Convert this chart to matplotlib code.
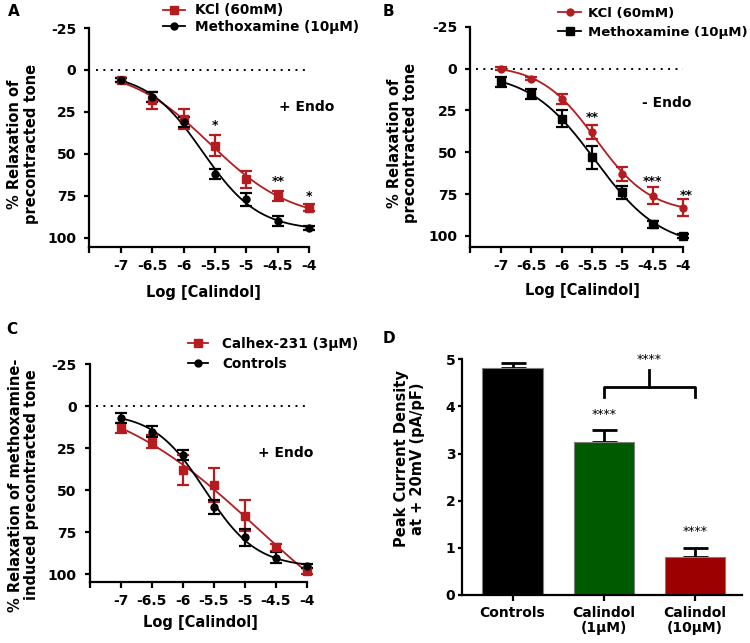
import matplotlib
matplotlib.use('Agg')
import matplotlib.pyplot as plt
from matplotlib.lines import Line2D
import numpy as np

plt.rcParams['font.family'] = ['DejaVu Sans']
plt.rcParams['font.weight'] = 'bold'
plt.rcParams['axes.labelweight'] = 'bold'
plt.rcParams['axes.unicode_minus'] = False

RED = '#b41c20'
BLACK = '#000000'

log_calindol = [-7, -6.5, -6, -5.5, -5, -4.5, -4]
x_ticks = [-7.5, -7, -6.5, -6, -5.5, -5, -4.5, -4]
x_tick_labels = ['', '-7', '-6.5', '-6', '-5.5', '-5', '-4.5', '-4']
y_ticks = [-25, 0, 25, 50, 75, 100]

# panel A (+ Endo)
a_kcl = [6, 18, 29, 45, 65, 75, 82]
a_kcl_err = [1, 5, 6, 6, 5, 3, 2]
a_mtx = [6, 16, 31, 62, 77, 90, 94]
a_mtx_err = [1, 3, 3, 3, 4, 3, 1]
a_stars = [(-5.5, 33, '*'), (-4.5, 66.5, '**'), (-4, 75.5, '*')]

# panel B (- Endo)
b_kcl = [0, 6, 18, 38, 63, 76, 83]
b_kcl_err = [1, 1, 3, 4, 4, 5, 5]
b_mtx = [8, 15, 30, 53, 74, 93, 100]
b_mtx_err = [3, 3, 5, 7, 4, 2, 1]
b_stars = [(-5.5, 29.5, '**'), (-4.5, 67.5, '***'), (-3.95, 76, '**')]

# panel C (+ Endo, methoxamine tone)
c_calhex = [13, 21, 38, 47, 65, 84, 98]
c_calhex_err = [3, 4, 9, 10, 9, 2, 2]
c_ctrl = [7, 15, 29, 60, 78, 90, 95]
c_ctrl_err = [3, 3, 3, 4, 5, 3, 1]

# panel D
d_groups = ['Controls', 'Calindol\n(1μM)', 'Calindol\n(10μM)']
d_values = [4.82, 3.24, 0.80]
d_err = [0.11, 0.25, 0.20]
d_colors = ['#000000', '#005a00', '#9c0000']
d_stars = ['', '****', '****']


def fit_logistic(x, y):
    # 4-parameter logistic, top/bottom solved by least squares on a grid of logEC50 and slope
    x = np.asarray(x, float)
    y = np.asarray(y, float)
    ec = np.linspace(-7.5, -3.5, 401)[:, None, None]
    h = np.linspace(0.3, 3.0, 271)[None, :, None]
    f = 1.0 / (1.0 + 10.0 ** ((ec - x) * h))
    g = 1.0 - f
    s11 = (g * g).sum(-1)
    s12 = (g * f).sum(-1)
    s22 = (f * f).sum(-1)
    b1 = (g * y).sum(-1)
    b2 = (f * y).sum(-1)
    det = s11 * s22 - s12 ** 2
    top = (b1 * s22 - b2 * s12) / det
    bot = (b2 * s11 - b1 * s12) / det
    res = ((top[..., None] * g + bot[..., None] * f - y) ** 2).sum(-1)
    i, j = np.unravel_index(np.nanargmin(res), res.shape)
    return top[i, j], bot[i, j], ec[i, 0, 0], h[0, j, 0]


def draw_series(ax, y, err, color, marker, ms):
    t, b, ec, h = fit_logistic(log_calindol, y)
    xs = np.linspace(-7, -4, 300)
    ax.plot(xs, t + (b - t) / (1 + 10 ** ((ec - xs) * h)), color=color, lw=1.3, zorder=2)
    ax.errorbar(log_calindol, y, yerr=err, fmt=marker, color=color, ms=ms,
                elinewidth=1.6, capsize=4.5, capthick=1.6, zorder=3)


def style_curve_axes(ax, ylim):
    ax.set_xlim(-7.5, -4)
    ax.set_ylim(*ylim)
    ax.spines['top'].set_visible(False)
    ax.spines['right'].set_visible(False)
    ax.spines['left'].set_linewidth(1.6)
    ax.spines['bottom'].set_linewidth(1.6)
    ax.set_xticks(x_ticks)
    ax.set_xticklabels(x_tick_labels)
    ax.set_yticks(y_ticks)
    ax.tick_params(axis='both', width=1.6, labelsize=10)
    ax.tick_params(axis='x', length=4, pad=5)
    ax.tick_params(axis='y', length=3.5, pad=6)
    ax.plot([-7.4, -4], [0, 0], color='black', lw=1.4, ls=(0, (1, 2.8)), zorder=1)


def unclip(ax):
    for art in ax.lines + ax.collections:
        art.set_clip_on(False)


def legend_at(ax, fig, handles, labels, x_px, y_px, hl, htp, ls, size):
    ax.legend(handles, labels, loc='upper left', bbox_to_anchor=(x_px / 750, 1 - y_px / 643),
              bbox_transform=fig.transFigure, frameon=False, borderpad=0, borderaxespad=0,
              handlelength=hl, handletextpad=htp, labelspacing=ls,
              prop={'weight': 'bold', 'size': size})


def axes_px(fig, left, right, top, bottom):
    return fig.add_axes([left / 750, 1 - bottom / 643, (right - left) / 750, (bottom - top) / 643])


fig = plt.figure(figsize=(7.5, 6.43), dpi=100)

# ---- A ----
ax = axes_px(fig, 89.3, 309.3, 28, 247)
style_curve_axes(ax, (105.4, -25))
draw_series(ax, a_kcl, a_kcl_err, RED, 's', 6)
draw_series(ax, a_mtx, a_mtx_err, BLACK, 'o', 5)
unclip(ax)
for sx, sy, s in a_stars:
    ax.text(sx, sy, s, ha='center', va='center', fontsize=9)
ax.text(-4.48, 22, '+ Endo', fontsize=10, va='center', ha='left')
ax.set_xlabel('Log [Calindol]', fontsize=10.5)
ax.xaxis.set_label_coords(0.52, -0.175)
ax.set_ylabel('% Relaxation of\nprecontracted tone', fontsize=10.5, linespacing=1.1)
ax.yaxis.set_label_coords(-0.23, 0.47)
legend_at(ax, fig,
          [Line2D([], [], color=RED, marker='s', ms=6, lw=1.3),
           Line2D([], [], color=BLACK, marker='o', ms=5, lw=1.3)],
          ['KCl (60mM)', 'Methoxamine (10μM)'], 163, 3.5, 1.6, 0.74, 0.2, 9.8)
fig.text(8 / 750, 1 - 16 / 643, 'A', fontsize=11, ha='left', va='baseline')

# ---- B ----
ax = axes_px(fig, 470.3, 683.3, 26.7, 246.7)
style_curve_axes(ax, (106.4, -25))
draw_series(ax, b_kcl, b_kcl_err, RED, 'o', 5)
draw_series(ax, b_mtx, b_mtx_err, BLACK, 's', 6)
unclip(ax)
for sx, sy, s in b_stars:
    ax.text(sx, sy, s, ha='center', va='center', fontsize=9)
ax.text(-4.68, 20.5, '- Endo', fontsize=10, va='center', ha='left')
ax.set_xlabel('Log [Calindol]', fontsize=10.5)
ax.xaxis.set_label_coords(0.525, -0.165)
ax.set_ylabel('% Relaxation of\nprecontracted tone', fontsize=10.5, linespacing=1.1)
ax.yaxis.set_label_coords(-0.245, 0.47)
legend_at(ax, fig,
          [Line2D([], [], color=RED, marker='o', ms=5, lw=1.3),
           Line2D([], [], color=BLACK, marker='s', ms=6, lw=1.3)],
          ['KCl (60mM)', 'Methoxamine (10μM)'], 557.7, 7, 1.8, 0.47, 0.45, 9.5)
fig.text(383 / 750, 1 - 16 / 643, 'B', fontsize=11, ha='left', va='baseline')

# ---- C ----
ax = axes_px(fig, 89.7, 306.7, 364.3, 581.7)
style_curve_axes(ax, (104.4, -25))
draw_series(ax, c_calhex, c_calhex_err, RED, 's', 5.5)
draw_series(ax, c_ctrl, c_ctrl_err, BLACK, 'o', 5)
unclip(ax)
ax.text(-4.78, 28, '+ Endo', fontsize=10, va='center', ha='left')
ax.set_xlabel('Log [Calindol]', fontsize=10.5)
ax.xaxis.set_label_coords(0.51, -0.153)
ax.set_ylabel('% Relaxation of methoxamine-\ninduced precontracted tone', fontsize=10.5, linespacing=1.1)
ax.yaxis.set_label_coords(-0.235, 0.445)
legend_at(ax, fig,
          [Line2D([], [], color=RED, marker='s', ms=5.5, lw=1.3),
           Line2D([], [], color=BLACK, marker='o', ms=5, lw=1.3)],
          ['Calhex-231 (3μM)', 'Controls'], 188, 337, 1.44, 1.08, 0.41, 9.8)
fig.text(6 / 750, 1 - 334 / 643, 'C', fontsize=11, ha='left', va='baseline')

# ---- D ----
ax = axes_px(fig, 462.3, 741.7, 359.3, 595)
pos = np.arange(len(d_values))
ax.bar(pos, d_values, width=0.66, color=d_colors, edgecolor='#7f7f7f', linewidth=0.8, zorder=2)
ax.errorbar(pos, d_values, yerr=[np.zeros(len(d_err)), d_err], fmt='none', ecolor='black',
            elinewidth=2, capsize=9, capthick=2, zorder=1)
for p, v, e, s in zip(pos, d_values, d_err, d_stars):
    if s:
        ax.text(p, v + e + 0.2, s, ha='center', va='bottom', fontsize=9, fontweight='normal')
# bracket between the two calindol groups
br_y, br_drop, br_rise = 4.42, 0.22, 0.36
ax.plot([1, 1, 2, 2], [br_y - br_drop, br_y, br_y, br_y - br_drop], color='black', lw=2, clip_on=False)
ax.plot([1.5, 1.5], [br_y, br_y + br_rise], color='black', lw=2, clip_on=False)
ax.text(1.5, 4.86, '****', ha='center', va='bottom', fontsize=9, fontweight='normal')
ax.set_xlim(-0.55, 2.51)
ax.set_ylim(0, 5)
ax.set_yticks([0, 1, 2, 3, 4, 5])
ax.set_xticks(pos)
ax.set_xticklabels(d_groups, linespacing=1.1)
ax.spines['top'].set_visible(False)
ax.spines['right'].set_visible(False)
ax.spines['left'].set_linewidth(1.6)
ax.spines['bottom'].set_linewidth(1.6)
ax.tick_params(axis='both', width=1.6, labelsize=10)
ax.tick_params(axis='x', length=4, pad=4)
ax.tick_params(axis='y', length=3, pad=2)
ax.set_ylabel('Peak Current Density\nat + 20mV (pA/pF)', fontsize=10.5, linespacing=1.1)
ax.yaxis.set_label_coords(-0.133, 0.58)
fig.text(383 / 750, 1 - 343 / 643, 'D', fontsize=11, ha='left', va='baseline')

fig.savefig('out.png', dpi=100)
